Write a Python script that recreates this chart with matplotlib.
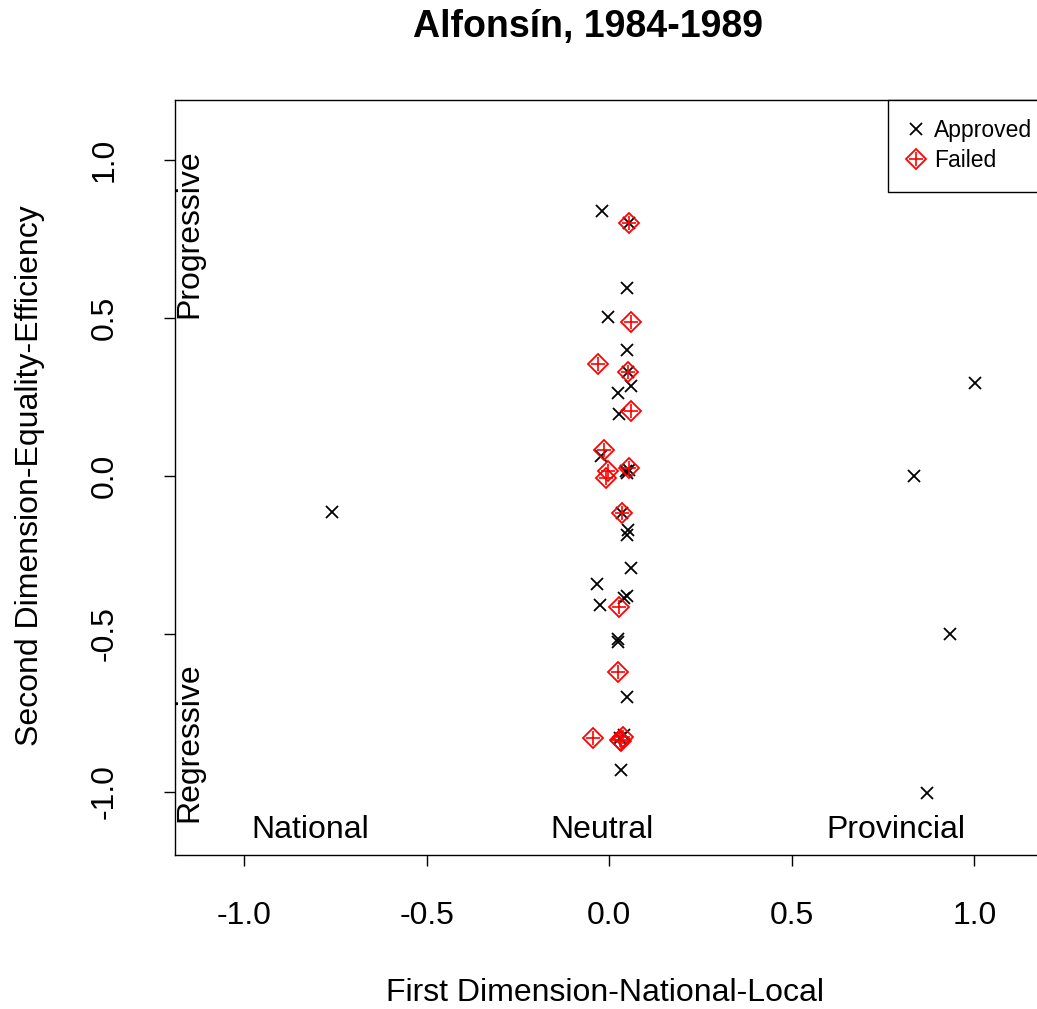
import matplotlib.pyplot as plt
from matplotlib.lines import Line2D

plt.rcParams['font.family'] = ['Liberation Sans', 'DejaVu Sans']

# approved bills (first dim, second dim)
approved_x = [-0.759, 1.003, 0.836, 0.932, 0.871,
              -0.019, 0.055, 0.049, -0.005, 0.047,
              0.052, 0.058, 0.025, 0.027,
              -0.022, 0.049, 0.055, 0.045,
              0.036, 0.047, 0.052, 0.060, -0.033, 0.041, 0.047, -0.025,
              0.025, 0.024, 0.049, 0.030, 0.040, 0.033]
approved_y = [-0.114, 0.295, 0.0, -0.50, -1.005,
              0.84, 0.80, 0.596, 0.504, 0.40,
              0.33, 0.285, 0.263, 0.197,
              0.063, 0.01, 0.02, 0.015,
              -0.117, -0.187, -0.172, -0.29, -0.342, -0.387, -0.38, -0.41,
              -0.526, -0.515, -0.70, -0.83, -0.82, -0.93]

# failed bills
failed_x = [0.055, 0.060, -0.030, 0.052, 0.058, -0.016, -0.005, -0.008,
            0.055, 0.036, 0.027, 0.025, -0.044, 0.030, 0.037, 0.033]
failed_y = [0.80, 0.486, 0.355, 0.33, 0.206, 0.082, 0.015, -0.005,
            0.025, -0.117, -0.415, -0.62, -0.83, -0.835, -0.825, -0.84]

x_ticks = [-1.0, -0.5, 0.0, 0.5, 1.0]
y_ticks = [-1.0, -0.5, 0.0, 0.5, 1.0]

fig = plt.figure(figsize=(10.37, 10.09), dpi=100)
# 365 px per x unit, right spine falls just outside the image
ax = fig.add_axes([175 / 1037, 1 - 855 / 1009, 0.87, 755 / 1009])

ax.plot(approved_x, approved_y, linestyle='none', marker='x', color='black',
        markersize=9, markeredgewidth=1.3)
ax.plot(failed_x, failed_y, linestyle='none', marker='D', markerfacecolor='none',
        markeredgecolor='red', markersize=10, markeredgewidth=1.3)
ax.plot(failed_x, failed_y, linestyle='none', marker='+', color='red',
        markersize=10, markeredgewidth=1.2)

ax.set_xlim(-1.19, -1.19 + 0.87 * 1037 / 365)
ax.set_ylim(-1.2, 1.19)
ax.set_xticks(x_ticks)
ax.set_xticklabels(['-1.0', '-0.5', '0.0', '0.5', '1.0'])
ax.set_yticks(y_ticks)
ax.set_yticklabels(['-1.0', '-0.5', '0.0', '0.5', '1.0'], rotation=90, va='center')
ax.tick_params(direction='out', length=8, width=1, labelsize=23)
ax.tick_params(axis='x', pad=25)
ax.tick_params(axis='y', pad=32)
for s in ax.spines.values():
    s.set_linewidth(1)

# region labels
ax.text(-0.82, -1.12, 'National', fontsize=23, ha='center', va='center')
ax.text(-0.02, -1.12, 'Neutral', fontsize=23, ha='center', va='center')
ax.text(0.786, -1.12, 'Provincial', fontsize=23, ha='center', va='center')
ax.text(-1.15, 0.5, 'Progressive', fontsize=23, rotation=90, ha='center', va='bottom')
ax.text(-1.15, -1.095, 'Regressive', fontsize=23, rotation=90, ha='center', va='bottom')

fig.text(588 / 1037, 1 - 27 / 1009, 'Alfonsín, 1984-1989', fontsize=27,
         fontweight='bold', ha='center', va='center')
fig.text(605 / 1037, 1 - 993 / 1009, 'First Dimension-National-Local', fontsize=23,
         ha='center', va='center')
fig.text(30 / 1037, 1 - 476 / 1009, 'Second Dimension-Equality-Efficiency', fontsize=23,
         rotation=90, ha='center', va='center')

# legend
h_app = Line2D([], [], linestyle='none', marker='x', color='black',
               markersize=9, markeredgewidth=1.3)
h_fail_d = Line2D([], [], linestyle='none', marker='D', markerfacecolor='none',
                  markeredgecolor='red', markersize=10, markeredgewidth=1.3)
h_fail_p = Line2D([], [], linestyle='none', marker='+', color='red',
                  markersize=10, markeredgewidth=1.2)
leg = fig.legend([h_app, (h_fail_d, h_fail_p)], ['Approved', 'Failed'],
                 loc='upper left', bbox_to_anchor=(888 / 1037, 1 - 100 / 1009),
                 bbox_transform=fig.transFigure, borderaxespad=0, fontsize=16.5,
                 fancybox=False, edgecolor='black', framealpha=1,
                 handlelength=0.7, handletextpad=0.45, labelspacing=0.3,
                 borderpad=0.85)
leg.get_frame().set_linewidth(1)

fig.savefig('out.png', dpi=100)
